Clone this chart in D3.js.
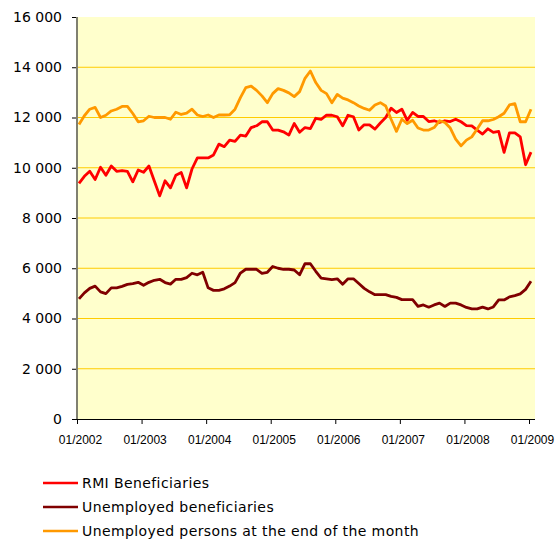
<!DOCTYPE html>
<html>
<head>
    <meta charset="utf-8">
    <title>RMI Beneficiaries</title>
    <script src="https://d3js.org/d3.v7.min.js"></script>
    <style>
        body { margin: 0; background: #fff; }
        svg { display: block; }
        .ylab { font-family: "DejaVu Sans", sans-serif; font-size: 14px; fill: #000; }
        .xlab { font-family: "Liberation Sans", Arial, sans-serif; font-size: 12px; fill: #000; }
        .leg { font-family: "DejaVu Sans", sans-serif; font-size: 14px; fill: #000; }
    </style>
</head>
<body>
<svg width="555" height="539"></svg>
<script>
    // axis labels
    const xTickLabels = ["01/2002", "01/2003", "01/2004", "01/2005", "01/2006", "01/2007", "01/2008", "01/2009"];
    const yTicks = [0, 2000, 4000, 6000, 8000, 10000, 12000, 14000, 16000];

    // monthly values, 01/2002 .. 01/2009
    const rmi = [
        9380, 9660, 9860, 9530, 10020, 9700, 10070, 9860, 9890, 9860, 9440, 9910,
        9820, 10070, 9470, 8880, 9480, 9200, 9700, 9810, 9200, 9950, 10390, 10390,
        10390, 10510, 10940, 10840, 11100, 11050, 11300, 11260, 11600, 11670, 11830, 11830,
        11500, 11500, 11430, 11300, 11760, 11410, 11600, 11560, 11970, 11930, 12090, 12090,
        12030, 11670, 12090, 12030, 11500, 11710, 11710, 11540, 11780, 12000, 12370, 12200,
        12330, 11890, 12200, 12040, 12040, 11840, 11870, 11800, 11870, 11840, 11930, 11830,
        11680, 11670, 11500, 11340, 11550, 11410, 11450, 10610, 11390, 11390, 11230, 10120,
        10620
    ];
    const unemployedBenef = [
        4780, 5020, 5200, 5290, 5060, 4990, 5220, 5220, 5280, 5360, 5390, 5440,
        5320, 5440, 5520, 5560, 5430, 5370, 5560, 5560, 5630, 5800, 5740, 5840,
        5220, 5120, 5120, 5180, 5290, 5430, 5810, 5960, 5960, 5960, 5800, 5840,
        6070, 6000, 5960, 5960, 5930, 5740, 6180, 6180, 5880, 5610, 5580, 5550,
        5580, 5360, 5580, 5580, 5390, 5200, 5060, 4950, 4950, 4950, 4880, 4840,
        4750, 4750, 4750, 4480, 4540, 4450, 4540, 4610, 4480, 4610, 4610, 4540,
        4440, 4380, 4380, 4450, 4380, 4460, 4740, 4740, 4860, 4910, 4980, 5160,
        5480
    ];
    const unemployedEnd = [
        11720, 12070, 12330, 12400, 12000, 12090, 12260, 12330, 12440, 12440, 12160, 11830,
        11870, 12050, 12000, 12000, 12000, 11930, 12210, 12120, 12170, 12330, 12100, 12040,
        12100, 12000, 12100, 12100, 12110, 12330, 12790, 13190, 13250, 13080, 12860, 12590,
        12950, 13150, 13080, 12980, 12830, 13030, 13560, 13850, 13390, 13080, 12950, 12590,
        12920, 12770, 12700, 12590, 12460, 12360, 12290, 12500, 12590, 12460, 11930, 11450,
        11930, 11760, 11890, 11580, 11500, 11500, 11600, 11870, 11800, 11580, 11140, 10870,
        11100, 11230, 11540, 11870, 11870, 11920, 12030, 12170, 12500, 12550, 11830, 11830,
        12330
    ];

    const series = [
        { name: "RMI Beneficiaries", values: rmi, color: "#ff0000" },
        { name: "Unemployed beneficiaries", values: unemployedBenef, color: "#800000" },
        { name: "Unemployed persons at the end of the month", values: unemployedEnd, color: "#ff9900" }
    ];

    const svg = d3.select("svg");
    const plotL = 77, plotR = 535, plotT = 17, plotB = 419;

    // month index scale, tick every 12 months
    const x = d3.scaleLinear().domain([0, 84]).range([plotL, 529]);
    const y = d3.scaleLinear().domain([0, 16000]).range([plotB, plotT]);
    const fmt = d3.formatLocale({ decimal: ",", thousands: " ", grouping: [3], currency: ["", ""] }).format(",d");

    // plot background
    svg.append("rect")
        .attr("x", plotL).attr("y", plotT)
        .attr("width", plotR - plotL).attr("height", plotB - plotT)
        .attr("fill", "#ffffcc");

    // gridlines
    svg.selectAll("line.grid")
        .data(yTicks.filter(d => d > 0 && d < 16000))
        .enter().append("line")
        .attr("class", "grid")
        .attr("x1", plotL).attr("x2", plotR)
        .attr("y1", d => y(d)).attr("y2", d => y(d))
        .attr("stroke", "#ffcc00").attr("stroke-width", 1);

    // y axis
    const yAxis = svg.append("g")
        .attr("transform", `translate(${plotL},0)`)
        .call(d3.axisLeft(y).tickValues(yTicks).tickFormat(fmt).tickSize(5).tickPadding(10));
    yAxis.select(".domain").remove();
    yAxis.selectAll("text").attr("class", "ylab").attr("font-size", null).attr("font-family", null);
    svg.append("line")
        .attr("x1", plotL).attr("x2", plotL)
        .attr("y1", plotT).attr("y2", plotB)
        .attr("stroke", "#808070").attr("stroke-width", 2);

    // x axis
    const xAxis = svg.append("g")
        .attr("transform", `translate(0,${plotB})`)
        .call(d3.axisBottom(x).tickValues(d3.range(0, 85, 12))
            .tickFormat((d, i) => xTickLabels[i]).tickSize(5).tickPadding(11));
    xAxis.select(".domain").attr("d", `M${plotL},0.5H${plotR}`);
    xAxis.selectAll("text").attr("class", "xlab").attr("font-size", null).attr("font-family", null)
        .attr("dx", 3);

    // lines (data sit a little after the month tick)
    const line = d3.line()
        .x((d, i) => x(i + 0.37))
        .y(d => y(d));

    [series[1], series[0], series[2]].forEach(s => {
        svg.append("path")
            .datum(s.values)
            .attr("d", line)
            .attr("fill", "none")
            .attr("stroke", s.color)
            .attr("stroke-width", 2.8)
            .attr("stroke-linejoin", "round");
    });

    // legend
    const legend = svg.append("g");
    const legRows = [483, 507, 531];
    series.forEach((s, i) => {
        legend.append("line")
            .attr("x1", 43).attr("x2", 78)
            .attr("y1", legRows[i]).attr("y2", legRows[i])
            .attr("stroke", s.color).attr("stroke-width", 2.5);
        legend.append("text")
            .attr("class", "leg")
            .attr("x", 82).attr("y", legRows[i])
            .attr("dy", "0.35em")
            .attr("letter-spacing", "0.4px")
            .text(s.name);
    });
</script>
</body>
</html>
